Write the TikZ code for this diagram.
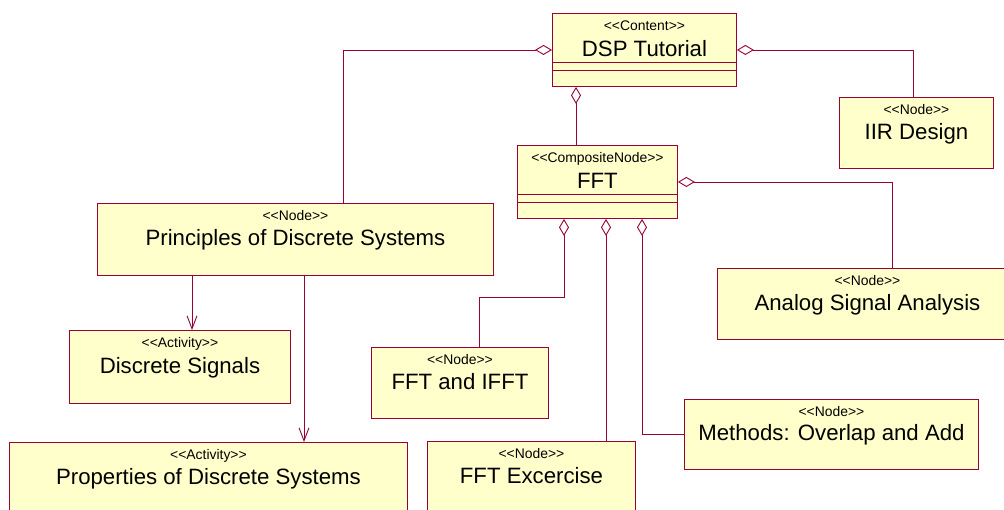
\documentclass[tikz,border=0pt]{standalone}
\usepackage{fontspec}
\setmainfont{Liberation Sans}
\usetikzlibrary{arrows.meta}
\definecolor{umlred}{RGB}{153,0,51}
\definecolor{umlyellow}{RGB}{255,255,204}
\newcommand\namefont{\fontsize{22.2}{26}\selectfont}
\newcommand\stereofont{\fontsize{13.9}{16}\selectfont}
\begin{document}
\begin{tikzpicture}[x=1pt, y=-1pt,
    box/.style={draw=umlred, fill=umlyellow, line width=0.9pt, anchor=north west,
      inner sep=0pt, font=\namefont, text height=16pt, text depth=3pt},
    stereo/.style={font=\stereofont, anchor=base, yshift=-17.5pt, inner sep=0pt},
    stereotype/.style={label={[stereo]north:<{}<#1>{}>}},
    link/.style={draw=umlred, line width=0.9pt},
    agg/.style={link, {Diamond[fill=white, length=17pt, width=10pt]}-},
    dep/.style={link, -{Straight Barb[length=13pt, width=10pt]}}]
  \useasboundingbox (0,0) rectangle (1004,509);
  \fill[white] (0,0) rectangle (1004,509);
  \node[box, stereotype=Content, minimum width=184pt, minimum height=73pt] (dsp) at (552,13) {DSP Tutorial};
  \node[box, stereotype=CompositeNode, minimum width=160pt, minimum height=73pt] (fft) at (517,145) {FFT};
  \node[box, stereotype=Node, minimum width=154pt, minimum height=71pt] (iir) at (839,97) {IIR Design};
  \node[box, stereotype=Node, minimum width=396pt, minimum height=72pt] (principles) at (97,203) {Principles of Discrete Systems};
  \node[box, stereotype=Activity, minimum width=221pt, minimum height=73pt] (signals) at (69,330) {Discrete Signals};
  \node[box, stereotype=Activity, minimum width=398pt, minimum height=72pt] (properties) at (9,442) {Properties of Discrete Systems};
  \node[box, stereotype=Node, minimum width=177pt, minimum height=71pt] (ifft) at (371,347) {FFT and IFFT};
  \node[box, stereotype=Node, minimum width=208pt, minimum height=72pt] (exercise) at (427,441) {FFT Excercise};
  \node[box, stereotype=Node, minimum width=294pt, minimum height=70pt] (overlap) at (684,399) {Methods: Overlap and Add};
  \node[box, stereotype=Node, minimum width=300pt, minimum height=71pt] (analog) at (717,268) {Analog Signal Analysis};
  \foreach \n in {dsp, fft}
    \foreach \d in {49, 57.5}
      \draw[link] ([yshift=-\d pt]\n.north west) -- ([yshift=-\d pt]\n.north east);
  \coordinate (d1) at ([xshift=24pt]dsp.south west);
  \coordinate (f1) at ([xshift=47pt]fft.south west);
  \coordinate (f2) at ([xshift=89pt]fft.south west);
  \coordinate (f3) at ([xshift=125pt]fft.south west);
  \coordinate (b1) at (479,297);
  \coordinate (p1) at ([xshift=95pt]principles.south west);
  \coordinate (p2) at ([xshift=207pt]principles.south west);
  \coordinate (a1) at ([xshift=175pt]analog.north west);
  \draw[agg] (dsp.west) -| ([xshift=246pt]principles.north west);
  \draw[agg] (dsp.east) -| ([xshift=74pt]iir.north west);
  \draw[agg] (d1) -- (d1 |- fft.north);
  \draw[agg] (fft.east) -| (a1);
  \draw[agg] (f1) |- (b1) -- (b1 |- ifft.north);
  \draw[agg] (f2) -- (f2 |- exercise.north);
  \draw[agg] (f3) |- (overlap.west);
  \draw[dep] (p1) -- (p1 |- signals.north);
  \draw[dep] (p2) -- (p2 |- properties.north);
\end{tikzpicture}
\end{document}
